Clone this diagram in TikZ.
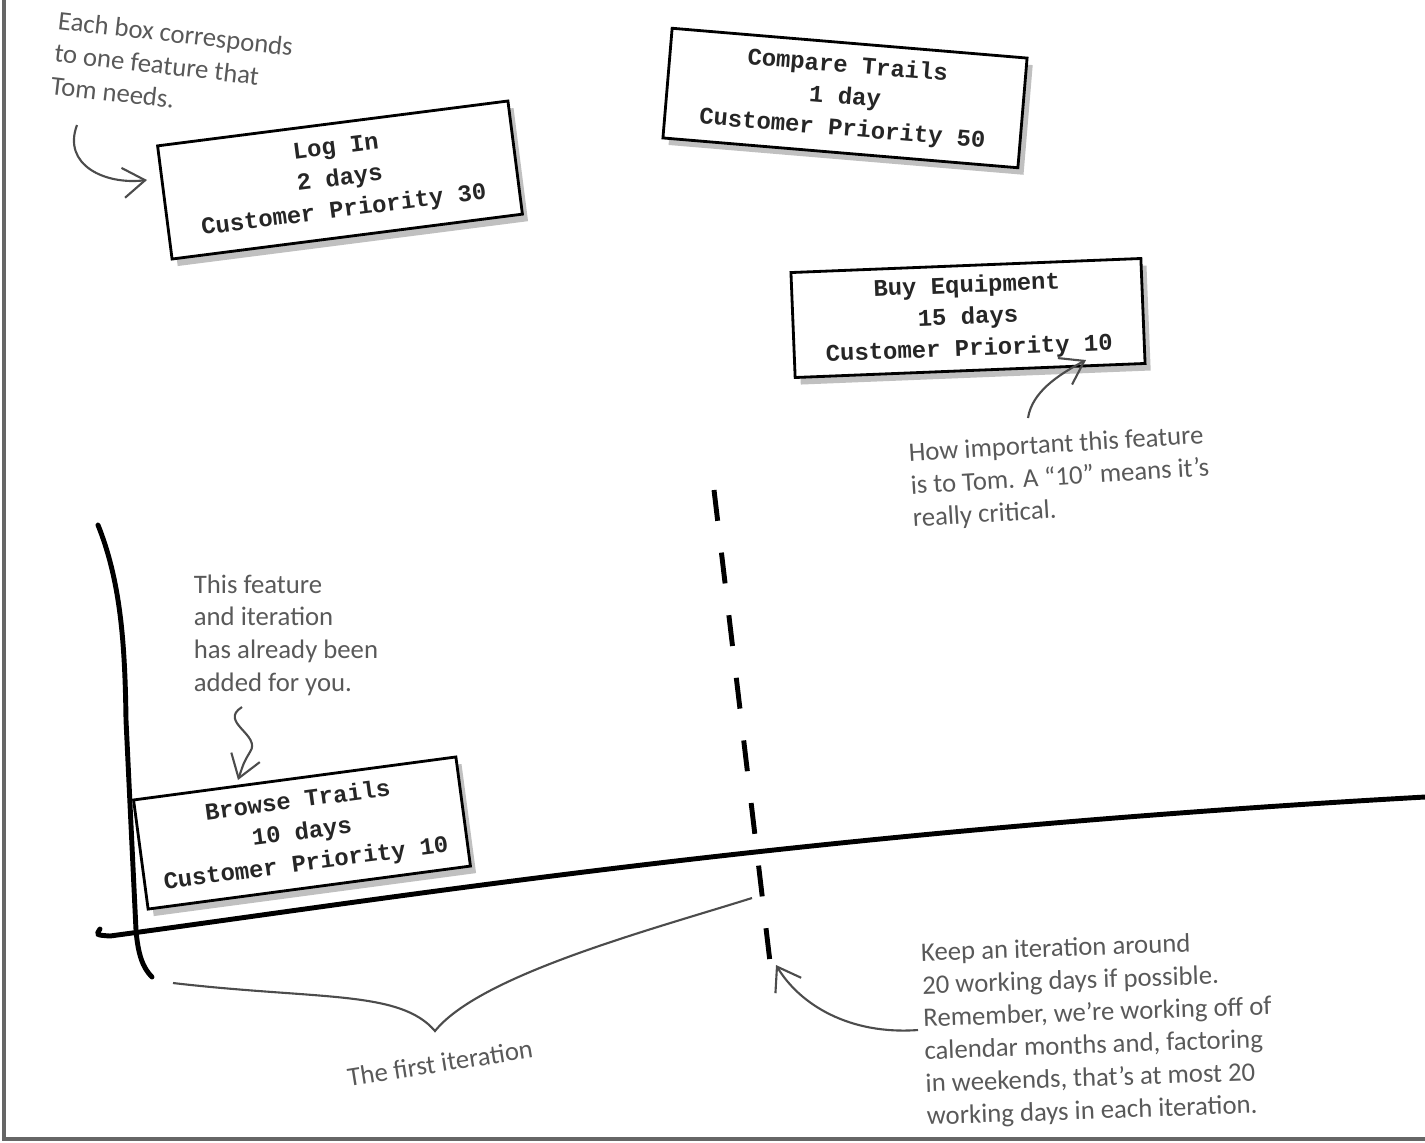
\documentclass[tikz,border=0pt]{standalone}
\usepackage{fontspec}
\setmonofont{Liberation Mono}
\newfontfamily\handfont{Carlito}
\usetikzlibrary{arrows.meta,shadows}

\begin{document}
\begin{tikzpicture}[x=0.01cm,y=-0.01cm,
  feature/.style={draw,line width=0.8pt,fill=white,align=center,inner sep=0pt,
    text=black!85,font=\ttfamily\bfseries\fontsize{6.8}{9}\selectfont,
    drop shadow={shadow xshift=1.6pt,shadow yshift=-2pt,fill=black!55,opacity=.45}},
  note/.style={align=left,text=black!65,inner sep=0pt,
    font=\handfont\fontsize{7.6}{9.3}\selectfont},
  pointer/.style={draw=black!70,line width=0.6pt,-{Straight Barb[length=2.2mm,width=3mm]}},
  axis/.style={line width=1.4pt,line cap=round}]
  \useasboundingbox (0,0) rectangle (1425,1142);

  % frame
  \draw[black!60,line width=0.9pt] (4,0) -- (4,1139) -- (1425,1139);

  % axes
  \draw[axis] (98,525) .. controls (120,580) and (125,640) .. (126,720)
    -- (136,930) .. controls (138,955) and (143,968) .. (152,977);
  \draw[axis] (100,929) .. controls (96,935) .. (110,936)
    .. controls (400,897) and (800,832) .. (1425,797);
  \draw[axis,line cap=butt,dash pattern=on 0.31cm off 0.32cm] (714,490) -- (770,962);

  % feature boxes
  \node[feature,rotate=7.3,minimum width=3.53cm,minimum height=1.14cm] (login) at (340,180)
    {Log In\\2 days\\Customer Priority 30};
  \node[feature,rotate=-4.8,minimum width=3.56cm,minimum height=1.1cm] (compare) at (845,98)
    {Compare Trails\\1 day\\Customer Priority 50};
  \node[feature,rotate=2.3,minimum width=3.5cm,minimum height=1.05cm] (buy) at (968,318)
    {Buy Equipment\\15 days\\Customer Priority 10};
  \node[feature,rotate=7.6,minimum width=3.25cm,minimum height=1.1cm] (browse) at (302,833)
    {Browse Trails\\10 days\\Customer Priority 10};

  % notes
  \node[note,rotate=-6.5] (eachnote) at (172,66)
    {Each box corresponds\\to one feature that\\Tom needs.};
  \node[note,rotate=3.5] (hownote) at (1060,478)
    {How important this feature\\is to Tom. A “10” means it’s\\really critical.};
  \node[note] (thisnote) at (286,635)
    {This feature\\and iteration\\has already been\\added for you.};
  \node[note,rotate=9] (firstnote) at (440,1063) {The first iteration};
  \node[note,rotate=2] (keepnote) at (1098,1030)
    {Keep an iteration around\\20 working days if possible.\\Remember, we’re working off of\\calendar months and, factoring\\in weekends, that’s at most 20\\working days in each iteration.};

  % pointers
  \coordinate (eachtail) at (77,125);
  \coordinate (logintip) at (147,180);
  \coordinate (howtail) at (1028,418);
  \coordinate (buytip) at (1086,360);
  \coordinate (thistail) at (242,707);
  \coordinate (browsetip) at (238,780);
  \coordinate (keeptail) at (918,1030);
  \coordinate (dashtip) at (776,965);
  \coordinate (braceleft) at (173,983);
  \coordinate (bracetip) at (435,1031);
  \coordinate (braceright) at (752,898);

  \draw[pointer] (eachtail) .. controls (62,165) and (105,185) .. (logintip);
  \draw[pointer] (howtail) .. controls (1032,392) and (1058,375) .. (buytip);
  \draw[pointer] (thistail) .. controls (218,722) and (262,735) .. (250,752)
    .. controls (244,762) .. (browsetip);
  \draw[pointer] (keeptail) .. controls (850,1035) and (800,1005) .. (dashtip);
  \draw[draw=black!70,line width=0.6pt] (braceleft) .. controls (320,1000) and (400,990) .. (bracetip)
    .. controls (480,975) and (650,930) .. (braceright);
\end{tikzpicture}
\end{document}
